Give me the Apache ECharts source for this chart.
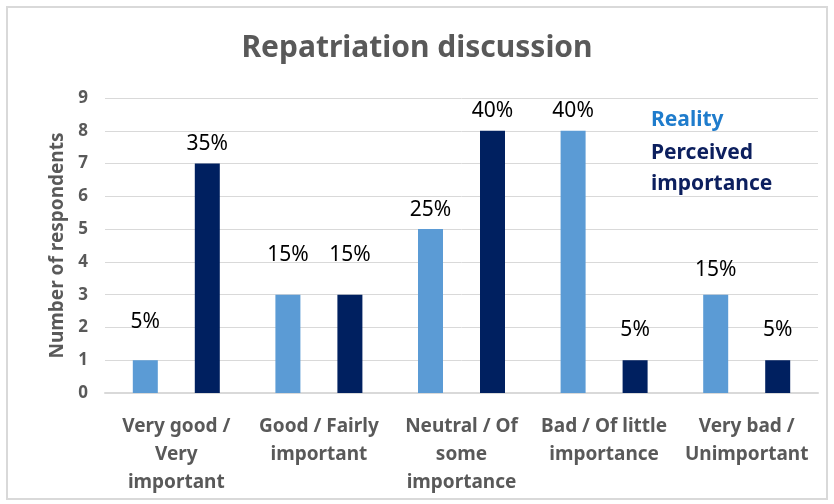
<!DOCTYPE html>
<html>
<head>
<meta charset="utf-8">
<script src="https://cdn.jsdelivr.net/npm/echarts@6/dist/echarts.min.js"></script>
<style>
  html, body { margin: 0; padding: 0; background: #fff; }
  #frame { position: absolute; left: 6px; top: 6px; width: 818px; height: 490px; border: 2px solid #d9d9d9; }
  #chart { position: absolute; left: 0; top: 0; width: 834px; height: 504px; }
</style>
</head>
<body>
<div id="frame"></div>
<div id="chart"></div>
<script>
// categories and counts
var categories = [
    'Very good /\nVery\nimportant',
    'Good / Fairly\nimportant',
    'Neutral / Of\nsome\nimportance',
    'Bad / Of little\nimportance',
    'Very bad /\nUnimportant'
];
var reality = [1, 3, 5, 8, 3];
var perceived = [7, 3, 8, 1, 1];
var yTicks = [0, 1, 2, 3, 4, 5, 6, 7, 8, 9];

var FONT = '"Noto Sans", sans-serif';

// a few labels sit higher in the original (pixels), by category index
var realityLift = { 0: 19, 1: 20, 4: 5 };
var perceivedLift = { 1: 20, 3: 11, 4: 11 };

function sum(arr) {
    var s = 0;
    for (var i = 0; i < arr.length; i++) s += arr[i];
    return s;
}

// label as share of all respondents in the series
function pctLabel(arr) {
    var total = sum(arr);
    return function (p) {
        return Math.round(p.value / total * 100) + '%';
    };
}

function barData(arr, lift) {
    return arr.map(function (v, i) {
        var d = { value: v };
        if (lift[i]) d.label = { offset: [0, -lift[i]] };
        return d;
    });
}

function labelStyle(arr) {
    return {
        show: true,
        position: 'top',
        distance: 9,
        color: '#000',
        fontFamily: FONT,
        fontSize: 21,
        formatter: pctLabel(arr)
    };
}

var option = {
    animation: false,
    textStyle: { fontFamily: FONT },
    title: {
        text: 'Repatriation discussion',
        left: 'center',
        top: 28,
        textStyle: { fontFamily: FONT, fontSize: 30, fontWeight: 'bold', color: '#595959' }
    },
    legend: {
        orient: 'vertical',
        left: 641,
        top: 100,
        icon: 'none',
        itemWidth: 0,
        itemGap: 2,
        selectedMode: false,
        formatter: function (name) {
            return name === 'Perceived importance' ? 'Perceived\nimportance' : name;
        },
        data: [
            { name: 'Reality', textStyle: { color: '#1f7ccc' } },
            { name: 'Perceived importance', textStyle: { color: '#0c1f5e' } }
        ],
        textStyle: { fontFamily: FONT, fontSize: 21, fontWeight: 'bold', lineHeight: 31 }
    },
    grid: { left: 105, right: 16, top: 98, bottom: 111 },
    xAxis: {
        type: 'category',
        data: categories,
        axisTick: { show: false },
        axisLine: { lineStyle: { color: '#d9d9d9', width: 2 } },
        axisLabel: {
            interval: 0,
            margin: 20,
            color: '#595959',
            fontFamily: FONT,
            fontSize: 19,
            fontWeight: 'bold',
            lineHeight: 28
        }
    },
    yAxis: {
        type: 'value',
        min: yTicks[0],
        max: yTicks[yTicks.length - 1],
        interval: 1,
        name: 'Number of respondents',
        nameLocation: 'middle',
        nameGap: 37,
        nameRotate: 90,
        nameTextStyle: { fontFamily: FONT, fontSize: 19, fontWeight: 'bold', color: '#595959' },
        axisLine: { show: false },
        axisTick: { show: false },
        axisLabel: { color: '#595959', fontFamily: FONT, fontSize: 17, fontWeight: 'bold', margin: 17 },
        splitLine: { lineStyle: { color: '#d9d9d9', width: 1 } }
    },
    series: [
        {
            name: 'Reality',
            type: 'bar',
            data: barData(reality, realityLift),
            barWidth: 25,
            barGap: '148%',
            itemStyle: { color: '#5b9bd5' },
            label: labelStyle(reality)
        },
        {
            name: 'Perceived importance',
            type: 'bar',
            data: barData(perceived, perceivedLift),
            barWidth: 25,
            itemStyle: { color: '#002060' },
            label: labelStyle(perceived)
        }
    ]
};

var myChart = echarts.init(document.getElementById('chart'));
myChart.setOption(option);
</script>
</body>
</html>
